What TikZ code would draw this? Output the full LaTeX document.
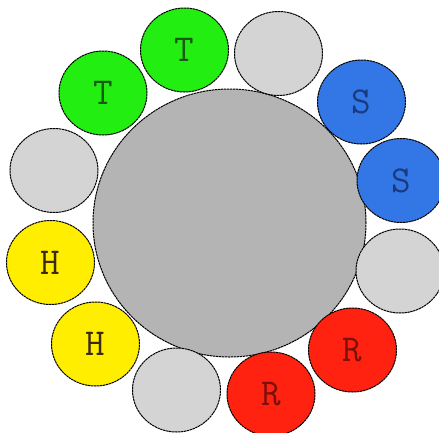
\documentclass[tikz,border=0pt]{standalone}
\usetikzlibrary{shapes.geometric}
\definecolor{cgreen}{HTML}{22EE11}
\definecolor{cblue}{HTML}{3377E6}
\definecolor{cred}{HTML}{FF2211}
\definecolor{cyellow}{HTML}{FFEE00}
\definecolor{cgray}{HTML}{D4D4D4}
\definecolor{cbig}{HTML}{B4B4B4}
\definecolor{tgreen}{HTML}{1A5A10}
\definecolor{tblue}{HTML}{1A3A80}
\definecolor{tred}{HTML}{7A1008}
\definecolor{tyel}{HTML}{3A2A10}
\tikzset{
  seat/.style={draw=black, ellipse, line width=1pt, dash pattern=on 2.4pt off 0.6pt,
    minimum width=88pt, minimum height=84pt, inner sep=0pt,
    font=\ttfamily\fontsize{38}{38}\selectfont},
  tablebox/.style={draw=black, ellipse, line width=1pt, dash pattern=on 2.4pt off 0.6pt,
    fill=cbig, minimum width=273pt, minimum height=268pt, inner sep=0pt},
}
\begin{document}
\begin{tikzpicture}[x=1pt,y=-1pt]
\useasboundingbox (0,0) rectangle (439,432);
\node[tablebox] (table) at (229.5,223) {};
\node[seat, fill=cgreen, text=tgreen] (t1) at (184.5,50) {T};
\node[seat, fill=cgreen, text=tgreen] (t2) at (103,93) {T};
\node[seat, fill=cgray] (g1) at (278.5,53.5) {};
\node[seat, fill=cblue, text=tblue] (s1) at (361.5,102) {S};
\node[seat, fill=cblue, text=tblue] (s2) at (401,180.5) {S};
\node[seat, fill=cgray] (g2) at (400,271) {};
\node[seat, fill=cred, text=tred] (r1) at (352.5,350) {R};
\node[seat, fill=cred, text=tred] (r2) at (271,394) {R};
\node[seat, fill=cgray] (g3) at (176.5,390) {};
\node[seat, fill=cyellow, text=tyel] (h1) at (95.5,344) {H};
\node[seat, fill=cyellow, text=tyel] (h2) at (50.5,262.5) {H};
\node[seat, fill=cgray] (g4) at (54,170.5) {};
\end{tikzpicture}
\end{document}
